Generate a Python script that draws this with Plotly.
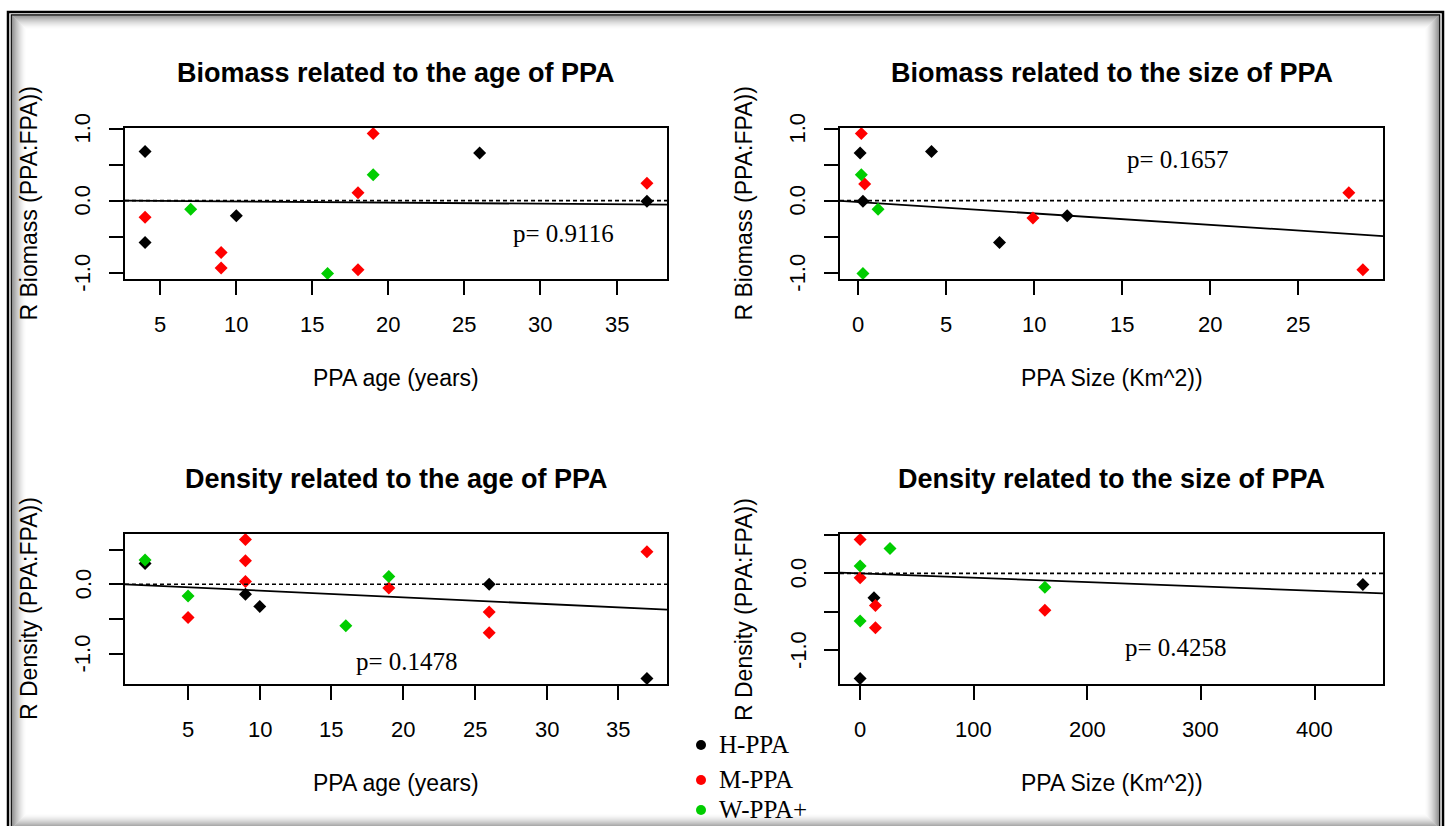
import plotly.graph_objects as go

W, H = 1451, 826

# ---------------- data ----------------
# Biomass vs PPA age
age_b_h = [4, 4, 10, 26, 37]
rb_age_h = [0.68, -0.58, -0.21, 0.66, -0.01]
age_b_m = [4, 9, 9, 18, 18, 19, 37]
rb_age_m = [-0.23, -0.72, -0.935, -0.96, 0.11, 0.93, 0.24]
age_b_w = [7, 16, 19]
rb_age_w = [-0.12, -1.01, 0.36]

# Biomass vs PPA size
size_b_h = [0.1, 0.26, 4.16, 8.03, 11.88]
rb_size_h = [0.66, -0.01, 0.68, -0.58, -0.21]
size_b_m = [0.17, 0.36, 9.93, 27.9, 28.7]
rb_size_m = [0.93, 0.23, -0.24, 0.11, -0.96]
size_b_w = [0.17, 1.12, 0.26]
rb_size_w = [0.36, -0.12, -1.01]

# Density vs PPA age
age_d_h = [2, 9, 10, 26, 37]
rd_age_h = [0.30, -0.146, -0.32, 0.0, -1.36]
age_d_m = [5, 9, 9, 9, 19, 26, 26, 37]
rd_age_m = [-0.48, 0.645, 0.34, 0.04, -0.054, -0.40, -0.70, 0.47]
age_d_w = [2, 5, 16, 19]
rd_age_w = [0.35, -0.17, -0.60, 0.11]

# Density vs PPA size
size_d_h = [0, 12.2, 442.5]
rd_size_h = [-1.37, -0.32, -0.145]
size_d_m = [0, 0, 13.5, 13.5, 162.6]
rd_size_m = [0.44, -0.057, -0.42, -0.71, -0.48]
size_d_w = [0, 0, 26.3, 162.6]
rd_size_w = [0.096, -0.62, 0.325, -0.18]

# fitted lines (intercept, slope) and p-values
fit_intercepts = [0.005, -0.02, 0.005, 0.0]
fit_slopes = [-0.0016, -0.0158, -0.0097, -0.00057]
p_labels = ["p= 0.9116", "p= 0.1657", "p= 0.1478", "p= 0.4258"]
p_label_x = [31.5, 18.2, 20.3, 278]
p_label_y = [-0.45, 0.57, -1.12, -0.97]

titles = ["Biomass related to the age of PPA", "Biomass related to the size of PPA",
          "Density related to the age of PPA", "Density related to the size of PPA"]
x_titles = ["PPA age (years)", "PPA Size (Km^2))", "PPA age (years)", "PPA Size (Km^2))"]
y_titles = ["R Biomass (PPA:FPA))", "R Biomass (PPA:FPA))",
            "R Density (PPA:FPA))", "R Density (PPA:FPA))"]
x_ticks = [[5, 10, 15, 20, 25, 30, 35], [0, 5, 10, 15, 20, 25],
           [5, 10, 15, 20, 25, 30, 35], [0, 100, 200, 300, 400]]
y_ticks = [[-1.0, -0.5, 0.0, 0.5, 1.0], [-1.0, -0.5, 0.0, 0.5, 1.0],
           [-1.0, -0.5, 0.0, 0.5], [-1.0, -0.5, 0.0, 0.5]]
y_tick_text = [["-1.0", "", "0.0", "", "1.0"], ["-1.0", "", "0.0", "", "1.0"],
               ["-1.0", "", "0.0", ""], ["-1.0", "", "0.0", ""]]

groups = ["H-PPA", "M-PPA", "W-PPA+"]
colors = ["#000000", "#FF0000", "#00CD00"]

panels = [
    ([age_b_h, age_b_m, age_b_w], [rb_age_h, rb_age_m, rb_age_w]),
    ([size_b_h, size_b_m, size_b_w], [rb_size_h, rb_size_m, rb_size_w]),
    ([age_d_h, age_d_m, age_d_w], [rd_age_h, rd_age_m, rd_age_w]),
    ([size_d_h, size_d_m, size_d_w], [rd_size_h, rd_size_m, rd_size_w]),
]

# plot-region boxes in pixels: left, right, top, bottom
boxes = [(125, 667, 128, 279), (840, 1383, 128, 279),
         (125, 667, 534, 684), (840, 1383, 534, 684)]

# legend block (pixels): key x, text x, row centres
legend_key_x = 701
legend_text_x = 717
legend_rows = [745, 780, 810]

SANS = "Liberation Sans"
SERIF = "Liberation Serif"


def px(x):
    return x / W


def py(y):
    return 1 - y / H


def r_range(vals):
    lo, hi = min(vals), max(vals)
    pad = 0.04 * (hi - lo)
    return [lo - pad, hi + pad]


fig = go.Figure()
annotations = []
shapes = []
layout_axes = {}

for i, ((xs, ys), box) in enumerate(zip(panels, boxes)):
    n = i + 1
    xa = "x" if n == 1 else f"x{n}"
    ya = "y" if n == 1 else f"y{n}"
    all_x = [v for s in xs for v in s]
    all_y = [v for s in ys for v in s]
    xr = r_range(all_x)
    yr = r_range(all_y)
    left, right, top, bottom = box

    axis_common = dict(showgrid=False, zeroline=False, showline=True, linecolor="black",
                       linewidth=1.7, mirror=True, ticks="outside", ticklen=14,
                       tickwidth=1.6, tickcolor="black", showticklabels=False,
                       fixedrange=True)
    layout_axes["xaxis" if n == 1 else f"xaxis{n}"] = dict(
        domain=[px(left), px(right)], range=xr, anchor=ya,
        tickvals=x_ticks[i], **axis_common)
    layout_axes["yaxis" if n == 1 else f"yaxis{n}"] = dict(
        domain=[py(bottom), py(top)], range=yr, anchor=xa,
        tickvals=y_ticks[i], **axis_common)

    # horizontal reference line at zero
    shapes.append(dict(type="line", xref=f"{xa} domain", yref=ya, x0=0, x1=1, y0=0, y1=0,
                       line=dict(color="black", width=1.7, dash="4px,3px"), layer="above"))

    # fitted line across the plot region
    fx = xr
    fy = [fit_intercepts[i] + fit_slopes[i] * v for v in fx]
    fig.add_trace(go.Scatter(x=fx, y=fy, mode="lines", xaxis=xa, yaxis=ya,
                             line=dict(color="black", width=1.8), showlegend=False,
                             hoverinfo="skip"))

    # points by group
    for g, (gx, gy) in enumerate(zip(xs, ys)):
        fig.add_trace(go.Scatter(x=gx, y=gy, mode="markers", xaxis=xa, yaxis=ya,
                                 marker=dict(symbol="diamond", size=10, color=colors[g],
                                             line=dict(width=0)),
                                 name=groups[g], showlegend=False))

    # x tick labels
    for v in x_ticks[i]:
        annotations.append(dict(x=v, xref=xa, y=py(bottom + 45), yref="paper",
                                text=str(v), showarrow=False, xanchor="center",
                                yanchor="middle", font=dict(family=SANS, size=22, color="black")))
    # y tick labels (rotated, as in R's default)
    for v, t in zip(y_ticks[i], y_tick_text[i]):
        if t:
            annotations.append(dict(x=px(left - 42), xref="paper", y=v, yref=ya,
                                    text=t, showarrow=False, textangle=-90,
                                    xanchor="center", yanchor="middle",
                                    font=dict(family=SANS, size=22, color="black")))
    # titles
    annotations.append(dict(x=px((left + right) / 2), y=py(top - 55), xref="paper", yref="paper",
                            text=f"<b>{titles[i]}</b>", showarrow=False,
                            xanchor="center", yanchor="middle",
                            font=dict(family=SANS, size=27, color="black")))
    annotations.append(dict(x=px((left + right) / 2), y=py(bottom + 99), xref="paper", yref="paper",
                            text=x_titles[i], showarrow=False, xanchor="center", yanchor="middle",
                            font=dict(family=SANS, size=23, color="black")))
    annotations.append(dict(x=px(left - 96), y=py((top + bottom) / 2), xref="paper", yref="paper",
                            text=y_titles[i], showarrow=False, textangle=-90,
                            xanchor="center", yanchor="middle",
                            font=dict(family=SANS, size=23, color="black")))
    # p-value
    annotations.append(dict(x=p_label_x[i], y=p_label_y[i], xref=xa, yref=ya,
                            text=p_labels[i], showarrow=False, xanchor="center", yanchor="middle",
                            font=dict(family=SERIF, size=25, color="black")))

# legend: keys on a full-page overlay axis measured in pixels, labels as text
layout_axes["xaxis5"] = dict(domain=[0, 1], range=[0, W], visible=False, fixedrange=True,
                             anchor="y5")
layout_axes["yaxis5"] = dict(domain=[0, 1], range=[H, 0], visible=False, fixedrange=True,
                             anchor="x5")
fig.add_trace(go.Scatter(x=[legend_key_x] * len(groups), y=legend_rows, mode="markers",
                         xaxis="x5", yaxis="y5", showlegend=False, hoverinfo="skip",
                         marker=dict(symbol="circle", size=10, color=colors,
                                     line=dict(width=0)), cliponaxis=False))
for g, row in enumerate(legend_rows):
    annotations.append(dict(x=px(legend_text_x), y=py(row - 1), xref="paper", yref="paper",
                            text=groups[g], showarrow=False, xanchor="left", yanchor="middle",
                            font=dict(family=SERIF, size=25, color="black")))

# outer frame with inner shadow
for k in range(14):
    a = 0.42 * (1 - k / 14) ** 1.6
    shapes.append(dict(type="rect", xref="paper", yref="paper",
                       x0=px(12.5 + k), x1=px(1438.5 - k), y0=py(827.5 - k), y1=py(15.5 + k),
                       line=dict(color=f"rgba(0,0,0,{a:.3f})", width=1), layer="below"))
shapes.append(dict(type="rect", xref="paper", yref="paper",
                   x0=px(8), x1=px(1443), y0=py(834), y1=py(12),
                   line=dict(color="black", width=2.5), layer="below"))
shapes.append(dict(type="rect", xref="paper", yref="paper",
                   x0=px(11.3), x1=px(1439.7), y0=py(830), y1=py(14.8),
                   line=dict(color="black", width=1.2), layer="below"))

fig.update_layout(
    width=W, height=H, autosize=False,
    margin=dict(l=0, r=0, t=0, b=0),
    paper_bgcolor="white", plot_bgcolor="rgba(0,0,0,0)",
    annotations=annotations, shapes=shapes,
    showlegend=False,
    **layout_axes,
)

fig.write_html("out.html")
